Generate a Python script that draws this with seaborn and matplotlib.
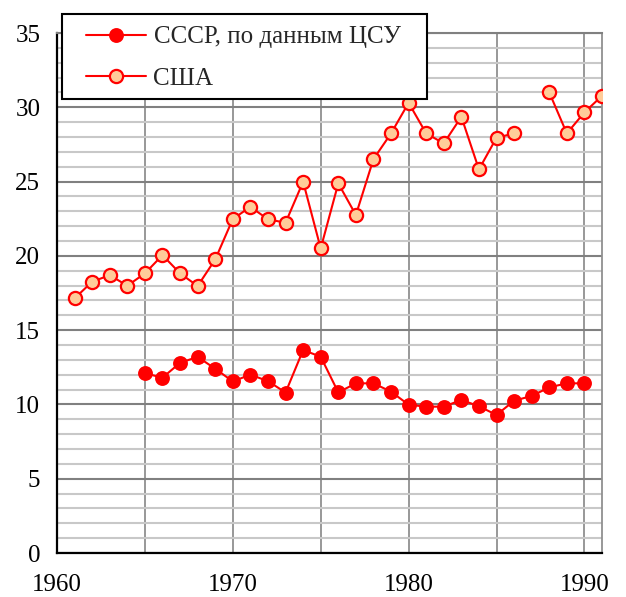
import numpy as np
import pandas as pd
import matplotlib
matplotlib.use("Agg")
import matplotlib.pyplot as plt
from matplotlib.patches import Rectangle
from matplotlib.ticker import MultipleLocator, FixedLocator
import seaborn as sns

# ---- data ----
ussr_years = [1965, 1966, 1967, 1968, 1969, 1970, 1971, 1972, 1973, 1974, 1975,
              1976, 1977, 1978, 1979, 1980, 1981, 1982, 1983, 1984, 1985, 1986,
              1987, 1988, 1989, 1990]
ussr_values = [12.1, 11.8, 12.8, 13.2, 12.4, 11.55, 12.0, 11.57, 10.8, 13.66, 13.21,
               10.81, 11.42, 11.42, 10.86, 9.98, 9.85, 9.85, 10.3, 9.88, 9.29, 10.25,
               10.57, 11.15, 11.42, 11.42]

usa_years = [1961, 1962, 1963, 1964, 1965, 1966, 1967, 1968, 1969, 1970, 1971,
             1972, 1973, 1974, 1975, 1976, 1977, 1978, 1979, 1980, 1981, 1982,
             1983, 1984, 1985, 1986, 1987, 1988, 1989, 1990, 1991]
usa_values = [17.14, 18.26, 18.7, 17.99, 18.82, 20.05, 18.82, 17.97, 19.76, 22.48, 23.3,
              22.46, 22.23, 24.99, 20.5, 24.88, 22.75, 26.51, 28.24, 30.3, 28.24, 27.57,
              29.36, 25.82, 27.95, 28.24, np.nan, 31.0, 28.24, 29.66, 30.77]

ussr_label = "СССР, по данным ЦСУ"
usa_label = "США"
x_ticklabels = ["1960", "", "1970", "", "1980", "", "1990"]

# ---- style ----
sns.set_theme(style="white")
plt.rcParams["font.family"] = ["Liberation Serif", "DejaVu Serif"]

W, H = 626, 597
fig = plt.figure(figsize=(W / 100, H / 100), dpi=100)
ax = fig.add_axes([57 / W, 1 - 553 / H, (602 - 57) / W, (553 - 33) / H])

RED = "#FF0000"
PEACH = "#FFCC99"

ussr_df = pd.DataFrame({"year": ussr_years, "value": ussr_values})
usa_df = pd.DataFrame({"year": usa_years, "value": usa_values})

sns.lineplot(data=ussr_df, x="year", y="value", ax=ax, color=RED, lw=1.5,
             marker="o", markersize=9.5, markerfacecolor=RED, markeredgecolor=RED,
             markeredgewidth=1.2, label=ussr_label, estimator=None, sort=False, zorder=5)

# USA series has a gap (1987): draw contiguous segments
seg_id = usa_df["value"].isna().cumsum()
first = True
for _, seg in usa_df.groupby(seg_id):
    seg = seg.dropna()
    if seg.empty:
        continue
    sns.lineplot(data=seg, x="year", y="value", ax=ax, color=RED, lw=1.5,
                 marker="o", markersize=9.5, markerfacecolor=PEACH, markeredgecolor=RED,
                 markeredgewidth=1.6, label=usa_label if first else "_nolegend_",
                 estimator=None, sort=False, zorder=5)
    first = False

ax.set_xlim(1960, 1991)
ax.set_ylim(0, 35)
ax.set_xlabel("")
ax.set_ylabel("")

# ticks
ax.xaxis.set_major_locator(FixedLocator([1960, 1965, 1970, 1975, 1980, 1985, 1990]))
ax.set_xticklabels(x_ticklabels)
ax.yaxis.set_major_locator(MultipleLocator(5))
ax.yaxis.set_minor_locator(MultipleLocator(1))
ax.tick_params(axis="both", which="major", direction="out", length=5, width=1.5,
               color="black", labelsize=18, labelcolor="black")
ax.tick_params(axis="x", pad=10)
ax.tick_params(axis="y", pad=7)
ax.tick_params(axis="y", which="minor", length=0)

# grid
ax.grid(False)
ax.yaxis.grid(True, which="minor", color="#C8C8C8", lw=1.5, zorder=0)
ax.yaxis.grid(True, which="major", color="#808080", lw=1.5, zorder=1)
ax.xaxis.grid(True, which="major", color="#909090", lw=1.3, zorder=1)
ax.set_axisbelow(True)

for side in ["left", "bottom"]:
    ax.spines[side].set_color("black")
    ax.spines[side].set_linewidth(1.6)
ax.spines["right"].set_color("#909090")
ax.spines["right"].set_linewidth(1.3)
ax.spines["top"].set_color("#808080")
ax.spines["top"].set_linewidth(1.5)
for s in ax.spines.values():
    s.set_visible(True)

# legend: box drawn as figure-level rectangle, legend entries on top
handles, labels = ax.get_legend_handles_labels()
if ax.get_legend() is not None:
    ax.get_legend().remove()
box = Rectangle((62 / W, 1 - 99 / H), (427 - 62) / W, (99 - 14) / H,
                transform=fig.transFigure, facecolor="white", edgecolor="black",
                lw=1.5, zorder=10)
fig.patches.append(box)
leg = fig.legend(handles, labels, loc="upper left",
                 bbox_to_anchor=(86 / W, 1 - 26 / H), bbox_transform=fig.transFigure,
                 frameon=False, fontsize=18, borderpad=0, borderaxespad=0,
                 handlelength=2.4, handletextpad=0.3, labelspacing=0.75)
leg.set_zorder(11)

fig.savefig("out.png", dpi=100)
